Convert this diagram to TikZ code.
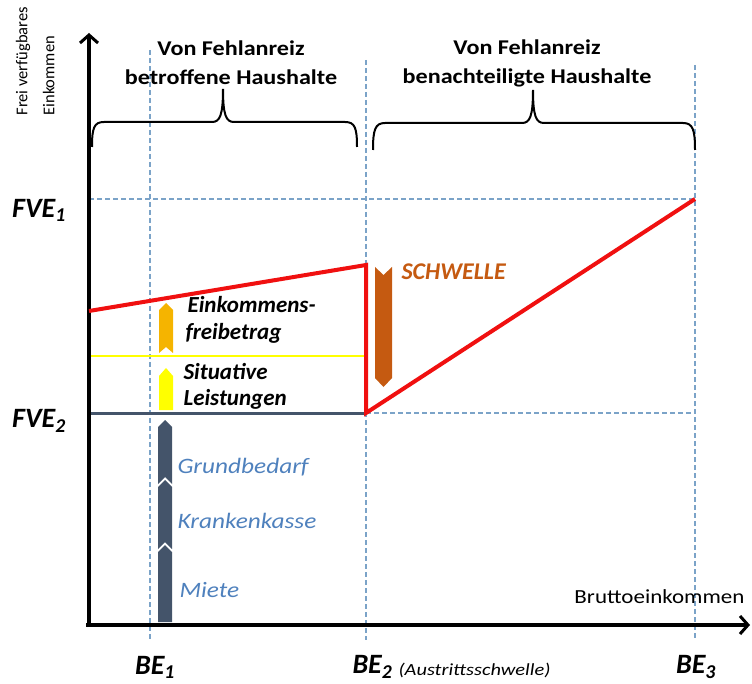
\documentclass[tikz,border=0pt]{standalone}
\usepackage{fontspec}
\setmainfont{Carlito}
\newfontfamily\widefont[FakeStretch=1.15]{Carlito}
\newfontfamily\widerfont[FakeStretch=1.2]{Carlito}
\usetikzlibrary{arrows.meta}
\definecolor{gridblue}{HTML}{7BA3C8}
\definecolor{slate}{HTML}{44546A}
\definecolor{txtblue}{HTML}{4F81BD}
\definecolor{amber}{HTML}{F5B400}
\definecolor{yel}{HTML}{FFFF00}
\definecolor{brownbar}{HTML}{C55A11}
\definecolor{redline}{HTML}{F01010}
\begin{document}
\begin{tikzpicture}[x=1pt,y=-1pt,
  grid/.style={gridblue,line width=1.2pt,dash pattern=on 5pt off 3pt},
  axis/.style={line width=3.5pt,-{Straight Barb[length=8pt,width=18pt,line width=3pt]}},
  head/.style={font=\widefont\fontsize{21}{29}\selectfont\bfseries,align=center},
  big/.style={font=\fontsize{28}{30}\selectfont\bfseries\itshape},
  lbl/.style={font=\fontsize{23}{26}\selectfont\bfseries\itshape,anchor=west},
  blu/.style={font=\widefont\fontsize{22}{26}\selectfont\itshape,text=txtblue,anchor=west},
  brace/.style={line width=2pt}]
\useasboundingbox (0,0) rectangle (752,684);
% grid lines
\coordinate (b1t) at (150,50);  \coordinate (b1b) at (150,640);
\coordinate (b2t) at (366,60);  \coordinate (b2b) at (366,640);
\coordinate (b3t) at (695,65);  \coordinate (b3b) at (695,640);
\coordinate (f1l) at (89,199);  \coordinate (f1r) at (695,199);
\coordinate (f2l) at (89,413);  \coordinate (f2m) at (366,413); \coordinate (f2r) at (695,413);
\draw[grid] (b1t) -- (b1b);
\draw[grid] (b2t) -- (b2b);
\draw[grid] (b3t) -- (b3b);
\draw[grid] (f1l) -- (f1r);
\draw[grid] (f2m) -- (f2r);
% yellow and slate lines
\coordinate (yl) at (89,356); \coordinate (yr) at (366,356);
\draw[yel,line width=2.5pt] (yl) -- (yr);
\draw[slate,line width=3pt] (f2l) -- (f2m);
% axes
\coordinate (O) at (89,625);
\coordinate (ytip) at (89,33);
\coordinate (xtip) at (750,625);
\draw[axis] (89,627) -- (ytip);
\draw[axis] (86,625) -- (xtip);
% braces
\draw[brace] (92,147) .. controls (92,128) and (94,122) .. (104,122) -- (212,122)
  .. controls (220,122) and (223,115) .. (223,89) .. controls (223,115) and (226,122) .. (234,122)
  -- (345,122) .. controls (355,122) and (357,128) .. (357,147);
\draw[brace] (373,150) .. controls (373,130) and (375,123) .. (385,123) -- (522,123)
  .. controls (530,123) and (533,116) .. (533,90) .. controls (533,116) and (536,123) .. (544,123)
  -- (683,123) .. controls (693,123) and (695,130) .. (695,150);
% header texts
\node[head] (h1) at (231,63) {Von Fehlanreiz\\betroffene Haushalte};
\node[head] (h2) at (527,63) {Von Fehlanreiz\\benachteiligte Haushalte};
% y axis label
\node[font=\fontsize{16.5}{27}\selectfont,rotate=90,align=left,anchor=south west] (ylab) at (58,119) {Frei verfügbares\\Einkommen};
% bars
\fill[slate] (158,622) -- (172,622) -- (172,552) -- (165,545) -- (158,552) -- cycle;
\fill[slate] (158,549) -- (165,542) -- (172,549) -- (172,487) -- (165,480) -- (158,487) -- cycle;
\fill[slate] (158,484) -- (165,477) -- (172,484) -- (172,427) -- (165,420) -- (158,427) -- cycle;
\fill[yel] (159,410) -- (173,410) -- (173,376) -- (166,368) -- (159,376) -- cycle;
\fill[amber] (159,353) -- (166,347) -- (173,353) -- (173,310) -- (166,303) -- (159,310) -- cycle;
\fill[brownbar] (375,267) -- (383.5,275) -- (392,267) -- (392,378) -- (383.5,387) -- (375,378) -- cycle;
% red line
\coordinate (r1) at (89,311); \coordinate (r2) at (366,265); \coordinate (r3) at (366,413); \coordinate (r4) at (695,199);
\draw[redline,line width=4pt,line join=miter] (r1) -- (r2) -- (r3) -- (r4);
% labels
\node[big] (fve1) at (39,210) {FVE\textsubscript{1}};
\node[big] (fve2) at (39,421) {FVE\textsubscript{2}};
\node[big] (be1) at (155,667) {BE\textsubscript{1}};
\node[big,anchor=west] (be2) at (349,667) {BE\textsubscript{2}};
\node[font=\widerfont\fontsize{17}{19}\selectfont\itshape,anchor=west] (aus) at (395,670) {(Austrittsschwelle)};
\node[big] (be3) at (696,667) {BE\textsubscript{3}};
\node[font=\widefont\fontsize{20}{22}\selectfont,anchor=east] (brutto) at (748,597) {Bruttoeinkommen};
\node[lbl] (ek1) at (184,305) {Einkommens-};
\node[lbl] (ek2) at (182,333) {freibetrag};
\node[lbl] (si1) at (180,372) {Situative};
\node[lbl] (si2) at (180,399) {Leistungen};
\node[blu] (gb) at (174,467) {Grundbedarf};
\node[blu] (kk) at (174,521) {Krankenkasse};
\node[blu] (mi) at (176,590) {Miete};
\node[font=\fontsize{24}{26}\selectfont\bfseries\itshape,text=brownbar,anchor=west] (sch) at (398,272) {SCHWELLE};
\end{tikzpicture}
\end{document}
